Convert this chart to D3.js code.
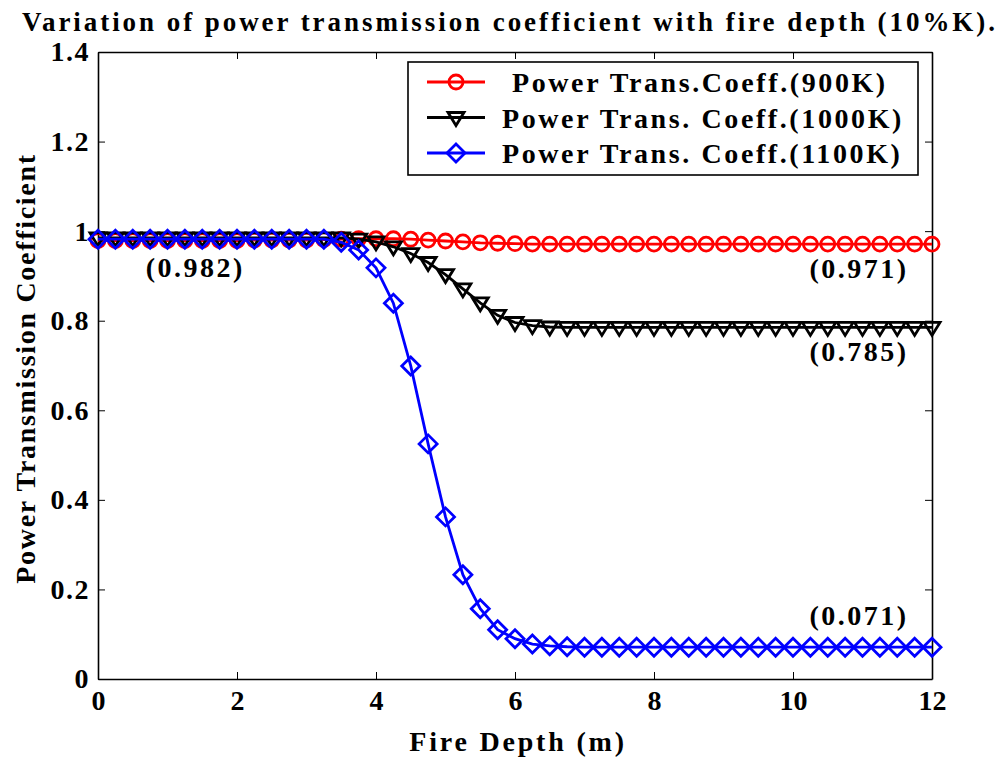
<!DOCTYPE html>
<html>
<head>
<meta charset="utf-8">
<script src="https://cdn.jsdelivr.net/npm/d3@7"></script>
<style>
  body { margin: 0; background: #fff; }
  text { font-family: "Liberation Serif", "Times New Roman", serif; font-weight: bold; }
</style>
</head>
<body>
<div id="chart"></div>
<script>
// fire depth (m)
const depth = [0,0.25,0.5,0.75,1,1.25,1.5,1.75,2,2.25,2.5,2.75,3,3.25,3.5,3.75,4,4.25,4.5,4.75,
  5,5.25,5.5,5.75,6,6.25,6.5,6.75,7,7.25,7.5,7.75,8,8.25,8.5,8.75,9,9.25,9.5,9.75,
  10,10.25,10.5,10.75,11,11.25,11.5,11.75,12];

const coeff900 = [0.979,0.979,0.979,0.979,0.979,0.979,0.979,0.979,0.979,
  0.980,0.980,0.980,0.980,0.981,0.982,0.983,0.983,0.983,0.982,0.980,0.978,0.976,0.974,0.973,0.972,
  0.971,0.971,0.971,0.971,0.971,0.971,0.971,0.971,0.971,0.971,0.971,0.971,
  0.971,0.971,0.971,0.971,0.971,0.971,0.971,0.971,0.971,0.971,0.971,0.971];

const coeff1000 = [0.985,0.985,0.985,0.985,0.985,0.985,0.985,0.985,0.985,0.985,0.985,0.985,0.985,0.985,0.985,
  0.982,0.976,0.965,0.950,0.930,0.903,0.871,0.840,0.812,0.796,0.789,0.786,
  0.785,0.785,0.785,0.785,0.785,0.785,0.785,0.785,0.785,0.785,0.785,
  0.785,0.785,0.785,0.785,0.785,0.785,0.785,0.785,0.785,0.785,0.785];

const coeff1100 = [0.982,0.982,0.982,0.982,0.982,0.982,0.982,0.982,0.982,0.982,0.982,0.982,0.982,0.982,
  0.975,0.958,0.918,0.839,0.699,0.525,0.362,0.233,0.157,0.110,0.090,0.078,0.074,0.072,
  0.071,0.071,0.071,0.071,0.071,0.071,0.071,0.071,0.071,0.071,0.071,
  0.071,0.071,0.071,0.071,0.071,0.071,0.071,0.071,0.071,0.071];

const seriesNames = ["Power Trans.Coeff.(900K)", "Power Trans. Coeff.(1000K)", "Power Trans. Coeff.(1100K)"];
const xTicks = [0,2,4,6,8,10,12];
const yTicks = [0,0.2,0.4,0.6,0.8,1,1.2,1.4];
const notes = [
  {x: 1.4, y: 0.982, label: "(0.982)", dy: 38},
  {x: 10.95, y: 0.971, label: "(0.971)", dy: 34},
  {x: 10.95, y: 0.785, label: "(0.785)", dy: 34},
  {x: 10.95, y: 0.071, label: "(0.071)", dy: -22}
];

const width = 1001, height = 760;
const margin = {top: 52, right: 69, bottom: 81, left: 98};

const svg = d3.select("#chart").append("svg")
  .attr("width", width).attr("height", height);

const x = d3.scaleLinear().domain([0, 12]).range([margin.left, width - margin.right]);
const y = d3.scaleLinear().domain([0, 1.4]).range([height - margin.bottom, margin.top]);

const series = [
  {name: seriesNames[0], values: coeff900, color: "#ff0000", marker: "circle"},
  {name: seriesNames[1], values: coeff1000, color: "#000000", marker: "triangle"},
  {name: seriesNames[2], values: coeff1100, color: "#0000ff", marker: "diamond"}
];

function markerPath(type) {
  if (type === "triangle") return "M-8,-5L8,-5L0,8Z";
  if (type === "diamond") return "M0,-9L9,0L0,9L-9,0Z";
  return null;
}

function drawMarker(g, type, color) {
  if (type === "circle") {
    g.append("circle").attr("r", 7).attr("fill", "none")
      .attr("stroke", color).attr("stroke-width", 2.8);
  } else {
    g.append("path").attr("d", markerPath(type)).attr("fill", "none")
      .attr("stroke", color).attr("stroke-width", 2.8).attr("stroke-linejoin", "miter");
  }
}

// axes
const axisFont = "28px";
const gx = svg.append("g").attr("transform", `translate(0,${y(0)})`)
  .call(d3.axisBottom(x).tickValues(xTicks).tickFormat(d3.format("d"))
    .tickSizeInner(-7).tickSizeOuter(0).tickPadding(11));
gx.selectAll("text").style("font-size", axisFont).attr("fill", "#000");

svg.append("g").attr("transform", `translate(0,${y(1.4)})`)
  .call(d3.axisTop(x).tickValues(xTicks).tickFormat("").tickSizeInner(-7).tickSizeOuter(0));

const gy = svg.append("g").attr("transform", `translate(${x(0)},0)`)
  .call(d3.axisLeft(y).tickValues(yTicks).tickFormat(d => d3.format("")(+d.toFixed(1)))
    .tickSizeInner(-7).tickSizeOuter(0).tickPadding(8));
gy.selectAll("text").style("font-size", axisFont).attr("fill", "#000").attr("letter-spacing", "1.5px");

svg.append("g").attr("transform", `translate(${x(12)},0)`)
  .call(d3.axisRight(y).tickValues(yTicks).tickFormat("").tickSizeInner(-7).tickSizeOuter(0));

svg.selectAll(".domain").attr("stroke", "#000").attr("stroke-width", 1.6);
svg.selectAll(".tick line").attr("stroke", "#000").attr("stroke-width", 1);

// series lines and markers
const line = d3.line().x((d, i) => x(depth[i])).y(d => y(d));
series.forEach(s => {
  svg.append("path").datum(s.values)
    .attr("d", line).attr("fill", "none")
    .attr("stroke", s.color).attr("stroke-width", 2.8);
  svg.append("g").selectAll("g").data(s.values).join("g")
    .attr("transform", (d, i) => `translate(${x(depth[i])},${y(d)})`)
    .each(function() { drawMarker(d3.select(this), s.marker, s.color); });
});

// value notes
svg.append("g").selectAll("text").data(notes).join("text")
  .attr("x", d => x(d.x)).attr("y", d => y(d.y) + d.dy)
  .attr("text-anchor", "middle").style("font-size", "28px").attr("letter-spacing", "2.5px")
  .text(d => d.label);

// legend
const legend = svg.append("g");
legend.append("rect").attr("x", 408).attr("y", 62).attr("width", 510).attr("height", 113)
  .attr("fill", "#fff").attr("stroke", "#000").attr("stroke-width", 1.6);
series.forEach((s, i) => {
  const ly = 82 + i * 35.5;
  legend.append("line").attr("x1", 427).attr("x2", 485).attr("y1", ly).attr("y2", ly)
    .attr("stroke", s.color).attr("stroke-width", 2.8);
  drawMarker(legend.append("g").attr("transform", `translate(456,${ly})`), s.marker, s.color);
  legend.append("text").attr("x", i === 0 ? 512 : 502).attr("y", ly + 10)
    .style("font-size", "28px").attr("letter-spacing", "2.6px").text(s.name);
});

// title and axis labels
svg.append("text").attr("x", 22).attr("y", 31)
  .style("font-size", "27px").attr("textLength", 973).attr("lengthAdjust", "spacing")
  .text("Variation of power transmission coefficient with fire depth  (10%K).");

svg.append("text").attr("x", 518).attr("y", 751)
  .attr("text-anchor", "middle").style("font-size", "28px").attr("letter-spacing", "2.8px")
  .text("Fire Depth (m)");

svg.append("text").attr("transform", `translate(35,${(y(0) + y(1.4)) / 2 + 3}) rotate(-90)`)
  .attr("text-anchor", "middle").style("font-size", "28px").attr("letter-spacing", "1.7px")
  .text("Power Transmission Coefficient");
</script>
</body>
</html>
